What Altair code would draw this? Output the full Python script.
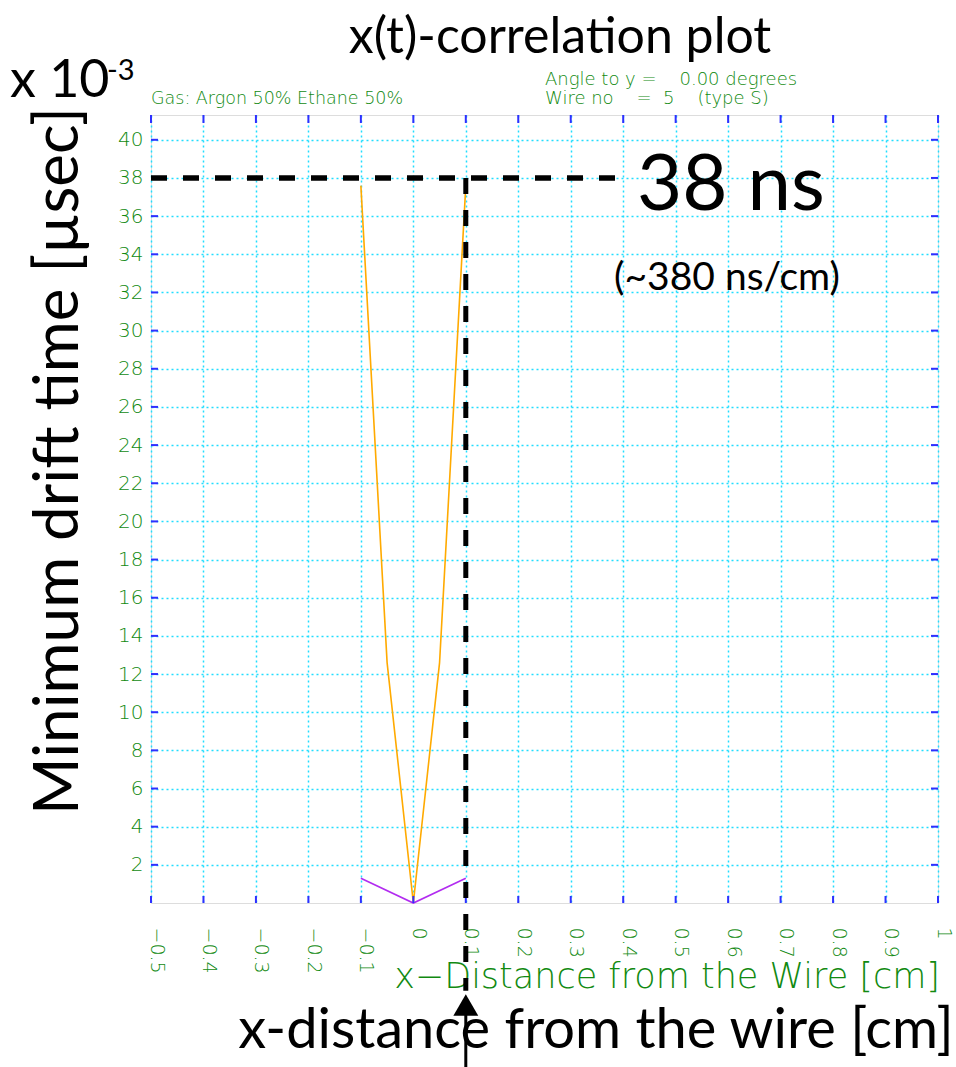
import altair as alt
import pandas as pd

# ---- data ----
orange_x = [-0.1, -0.05, 0.0, 0.05, 0.1]
orange_t = [37.6, 12.6, 0.0, 12.6, 37.6]
purple_x = [-0.1, 0.0, 0.1]
purple_t = [1.3, 0.0, 1.3]

x_ticks = [-0.5, -0.4, -0.3, -0.2, -0.1, 0, 0.1, 0.2, 0.3, 0.4, 0.5, 0.6, 0.7, 0.8, 0.9, 1]
y_ticks = [2, 4, 6, 8, 10, 12, 14, 16, 18, 20, 22, 24, 26, 28, 30, 32, 34, 36, 38, 40]

marker_t = 38.0      # 38 ns level
marker_x = 0.1       # 0.1 cm
h_line_x = [-0.5, 0.4]
v_line_t = [38.0, -4.6]
arrow_t = -5.35
arrow_stem_t = [-5.35, -8.7]

W, H = 787, 788
GREEN = "#118a11"
BLUE = "#2f2fff"
CYAN = "#22ddff"
THIN = "DejaVu Sans"
SANS = "Lato"
NB = "\u00a0"

xs = alt.Scale(domain=[-0.5, 1.0], nice=False, zero=False)
ys = alt.Scale(domain=[0, 41.3], nice=False, zero=False)

xaxis = alt.Axis(values=x_ticks, title="", grid=True, ticks=False, domain=False,
                 labelAngle=90, labelAlign="left", labelBaseline="middle",
                 labelPadding=24, labelOffset=5, labelFontSize=19, labelColor=GREEN,
                 labelFont=THIN, labelFontWeight=200,
                 labelExpr="datum.value == 0 ? '0' : format(datum.value, '.1~f')",
                 gridColor=CYAN, gridDash=[2, 3], gridWidth=1.5, labelOverlap=False)
yaxis = alt.Axis(values=y_ticks, title="", grid=True, ticks=False, domain=False,
                 labelPadding=8, labelFontSize=20, labelColor=GREEN, labelFont=THIN,
                 labelFontWeight=200, gridColor=CYAN, gridDash=[2, 3], gridWidth=1.5,
                 labelOverlap=False)

def X(field):
    return alt.X(f"{field}:Q", scale=xs, axis=xaxis)

def Y(field):
    return alt.Y(f"{field}:Q", scale=ys, axis=yaxis)

orange = alt.Chart(pd.DataFrame({"x": orange_x, "t": orange_t, "o": range(5)})).mark_line(
    color="#ffaa00", strokeWidth=1.6).encode(x=X("x"), y=Y("t"), order="o:Q")
purple = alt.Chart(pd.DataFrame({"x": purple_x, "t": purple_t, "o": range(3)})).mark_line(
    color="#b22cf0", strokeWidth=1.6).encode(x=X("x"), y=Y("t"), order="o:Q")

# inward ticks
xt = pd.DataFrame({"x": x_ticks})
yt = pd.DataFrame({"t": y_ticks})
tick_style = dict(color=BLUE, strokeWidth=2)
bx = alt.Chart(xt).mark_rule(**tick_style).encode(x=X("x"), y=alt.value(H), y2=alt.value(H - 7))
tx = alt.Chart(xt).mark_rule(**tick_style).encode(x=X("x"), y=alt.value(0), y2=alt.value(8))
ly = alt.Chart(yt).mark_rule(**tick_style).encode(y=Y("t"), x=alt.value(0), x2=alt.value(7))
ry = alt.Chart(yt).mark_rule(**tick_style).encode(y=Y("t"), x=alt.value(W - 7), x2=alt.value(W))

# dashed markers
hline = alt.Chart(pd.DataFrame({"x": h_line_x, "t": [marker_t, marker_t]})).mark_line(
    color="black", strokeWidth=5.5, strokeDash=[16, 16]).encode(x=X("x"), y=Y("t"))
vline = alt.Chart(pd.DataFrame({"x": [marker_x, marker_x], "t": v_line_t})).mark_line(
    color="black", strokeWidth=5, strokeDash=[16, 16]).encode(x=X("x"), y=Y("t"))
stem = alt.Chart(pd.DataFrame({"x": [marker_x, marker_x], "t": arrow_stem_t})).mark_line(
    color="black", strokeWidth=3).encode(x=X("x"), y=Y("t"))
arrow = alt.Chart(pd.DataFrame({"x": [marker_x], "t": [arrow_t]})).mark_point(
    shape="triangle-up", filled=True, color="black", size=620, opacity=1).encode(x=X("x"), y=Y("t"))

one = pd.DataFrame({"a": [0]})

def txt(s, x, y, size, font=SANS, color="black", align="left", weight="normal", angle=0, baseline="alphabetic"):
    kw = dict(text=s, fontSize=size, font=font, color=color, align=align,
              baseline=baseline, fontWeight=weight)
    if angle:
        kw["angle"] = angle
    return alt.Chart(one).mark_text(**kw).encode(x=alt.value(x), y=alt.value(y))

texts = [
    txt("x(t)-correlation plot", 409, -62, 50, align="center"),
    txt("x 10", -141, -18, 52),
    txt("-3", -44, -35, 29),
    txt("Gas: Argon 50% Ethane 50%", 0, -11, 17.5, font=THIN, color=GREEN, weight=200),
    txt("Angle to y =" + NB * 4 + "0.00 degrees", 394, -30, 18, font=THIN, color=GREEN, weight=200),
    txt("Wire no" + NB * 4 + "=" + NB * 2 + "5" + NB * 4 + "(type S)", 394, -11, 18, font=THIN, color=GREEN, weight=200),
    txt("38 ns", 486, 95, 78),
    txt("(~380 ns/cm)", 463, 175, 39),
    txt("Minimum drift time [µsec]", -73, 346, 62, align="center", angle=270),
    txt("x\u2212Distance from the Wire [cm]", 789, 873, 35, font=THIN, color=GREEN, align="right", weight=200),
    txt("x-distance from the wire [cm]", 445, 933, 56, align="center"),
]

chart = alt.layer(
    orange, purple, bx, tx, ly, ry, *texts, hline, vline, stem, arrow
).properties(
    width=W, height=H,
    autosize=alt.AutoSizeParams(type="none"),
    padding={"left": 151, "top": 115, "right": 18, "bottom": 164},
).configure_view(
    stroke=BLUE, strokeWidth=2
).configure(background="white")

chart.save("out.html", embed_options={"renderer": "svg", "actions": False})
